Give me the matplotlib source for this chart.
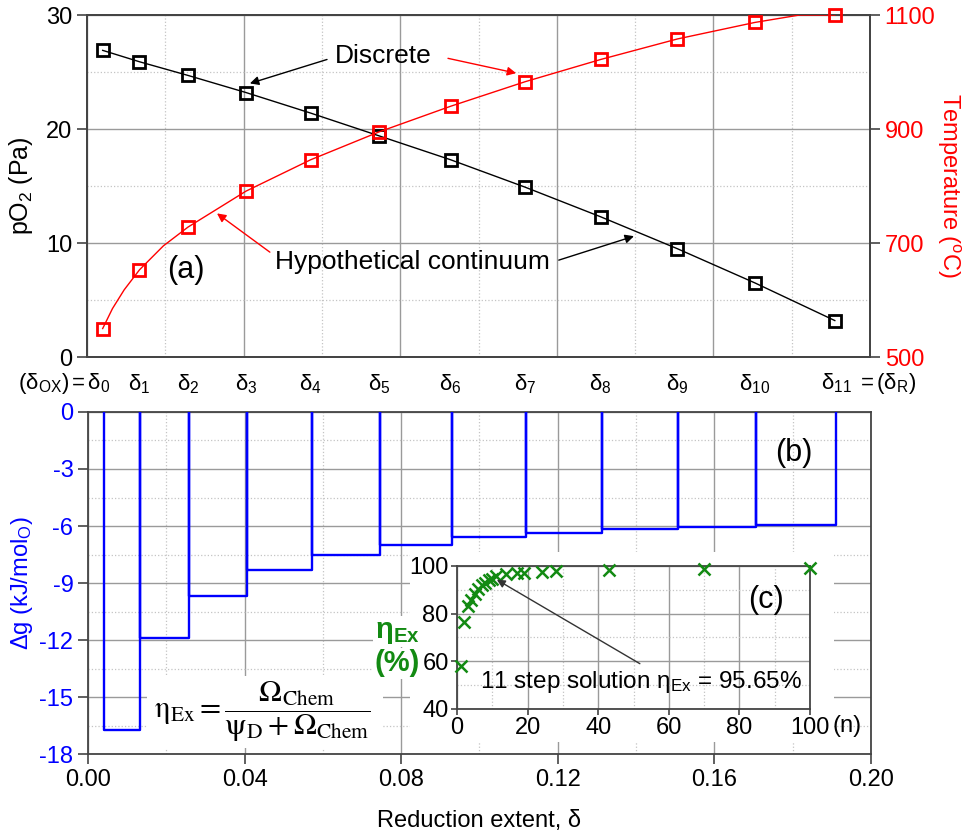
import matplotlib
matplotlib.use('Agg')
import matplotlib.pyplot as plt
import matplotlib.transforms as mtransforms
from matplotlib.ticker import MultipleLocator, FormatStrFormatter
from matplotlib.patches import Rectangle

plt.rcParams['font.family'] = ['Liberation Sans', 'DejaVu Sans']
plt.rcParams['mathtext.fontset'] = 'stix'
plt.rcParams['axes.unicode_minus'] = False
plt.rcParams['font.size'] = 17

# Reduction extents of the 11-step solution (delta_0 ... delta_11)
delta = [0.0040, 0.0134, 0.0258, 0.0406, 0.0571, 0.0746, 0.0929, 0.1119, 0.1312, 0.1508, 0.1706, 0.1910]
# panel (a): oxygen partial pressure and temperature at each delta
po2 = [26.9, 25.9, 24.7, 23.2, 21.4, 19.4, 17.3, 14.9, 12.3, 9.5, 6.5, 3.2]
temp = [550, 653, 728, 791, 846, 895, 940, 983, 1022, 1058, 1087, 1100]
# hypothetical continuum of temperature
cont_delta = [0.0040, 0.0065, 0.0095, 0.0134, 0.0195, 0.0258, 0.0406, 0.0571, 0.0746, 0.0929,
              0.1119, 0.1312, 0.1508, 0.1706, 0.1820, 0.1910]
cont_temp = [550, 585, 618, 653, 695, 728, 791, 846, 895, 940, 983, 1022, 1058, 1087, 1100, 1100]
# panel (b): Gibbs free energy change of each step
dg = [-16.76, -11.92, -9.67, -8.34, -7.51, -6.98, -6.58, -6.35, -6.18, -6.04, -5.95]
# panel (c): exergy efficiency vs number of steps
n_steps = [1, 2, 3, 4, 5, 6, 7, 8, 9, 10, 11, 14, 17, 19, 24, 28, 43, 70, 100]
eta_ex = [57.9, 76.3, 83.3, 85.8, 88.3, 90.2, 91.8, 93.0, 93.9, 94.6, 95.65, 96.5, 96.9, 97.2,
          97.6, 97.9, 98.3, 98.6, 99.0]

delta_labels = [r'$\mathregular{(δ_{OX})=δ_{0}}$'] + [r'$\mathregular{δ_{%d}}$' % i for i in range(1, 11)] \
               + [r'$\mathregular{δ_{11}\ =(δ_{R})}$']

RED = '#ff0000'
BLUE = '#0000ff'
GREEN = '#138a13'
SPINE = '#444444'

fig = plt.figure(figsize=(9.68, 8.34), dpi=100)


def style_axes(ax):
    for s in ax.spines.values():
        s.set_color(SPINE)
        s.set_linewidth(1.3)
    ax.grid(True, which='major', color='#9a9a9a', lw=1.0, ls='-')
    ax.grid(True, which='minor', color='#c4c4c4', lw=0.9, ls=':')
    ax.tick_params(which='major', direction='out', length=7, width=1.2, color=SPINE, labelsize=17)
    ax.tick_params(which='minor', length=0)
    ax.set_axisbelow(True)


# region Panel (a)
ax1 = fig.add_axes((0.0899, 0.5719, 0.8089, 0.4101))
style_axes(ax1)
ax1.set_xlim(0, 0.2)
ax1.set_ylim(0, 30)
ax1.xaxis.set_major_locator(MultipleLocator(0.04))
ax1.xaxis.set_minor_locator(MultipleLocator(0.02))
ax1.yaxis.set_major_locator(MultipleLocator(10))
ax1.yaxis.set_minor_locator(MultipleLocator(5))
ax1.tick_params(axis='x', which='major', length=0, labelbottom=False)
ax1.set_ylabel(r'pO$\mathregular{_2}$ (Pa)', fontsize=18)
ax1.yaxis.set_label_coords(-0.066, 0.5)

ax1.plot(delta, po2, color='black', lw=1.0, marker='s', ms=8, mfc='none', mec='black', mew=2.0, zorder=3)

ax2 = ax1.twinx()
ax2.set_ylim(500, 1100)
ax2.set_yticks([500, 700, 900, 1100])
for s in ax2.spines.values():
    s.set_color(SPINE)
    s.set_linewidth(1.3)
ax2.tick_params(axis='y', direction='out', length=7, width=1.2, color=SPINE, labelcolor=RED, labelsize=17)
ax2.plot(cont_delta, cont_temp, color=RED, lw=1.0, zorder=3)
ax2.plot(delta, temp, ls='none', marker='s', ms=8, mfc='none', mec=RED, mew=2.0, zorder=4, clip_on=False)
ax2.set_ylabel(r'Temperature ($\mathregular{^o}$C)', color=RED, rotation=270, fontsize=17)
ax2.yaxis.set_label_coords(1.118, 0.5)

ax1.text(0.0633, 26.4, 'Discrete', ha='left', va='center', fontsize=19)
ax1.text(0.048, 8.3, 'Hypothetical continuum', ha='left', va='center', fontsize=19)
ax1.text(0.0205, 7.6, '(a)', ha='left', va='center', fontsize=22)
arrow_k = dict(arrowstyle='-|>', color='black', lw=1.0, mutation_scale=13, shrinkA=0, shrinkB=0)
arrow_r = dict(arrowstyle='-|>', color=RED, lw=1.0, mutation_scale=13, shrinkA=0, shrinkB=0)
ax1.annotate('', xy=(0.0416, 24.0), xytext=(0.0613, 26.1), arrowprops=arrow_k)
ax1.annotate('', xy=(0.1096, 24.9), xytext=(0.0922, 26.2), arrowprops=arrow_r)
ax1.annotate('', xy=(0.0332, 12.6), xytext=(0.0467, 9.2), arrowprops=arrow_r)
ax1.annotate('', xy=(0.1397, 10.6), xytext=(0.1205, 8.5), arrowprops=arrow_k)

# delta labels between the two panels
trans = mtransforms.blended_transform_factory(ax1.transData, ax1.transAxes)
for i, (d, lab) in enumerate(zip(delta, delta_labels)):
    if i == 0:
        ax1.text(d + 0.0019, -0.078, lab, ha='right', va='center', transform=trans, fontsize=16)
    elif i == len(delta) - 1:
        ax1.text(d - 0.0035, -0.078, lab, ha='left', va='center', transform=trans, fontsize=16)
    else:
        ax1.text(d, -0.078, lab, ha='center', va='center', transform=trans, fontsize=16)
# endregion

# region Panel (b)
ax3 = fig.add_axes((0.0909, 0.0959, 0.8089, 0.4101))
style_axes(ax3)
ax3.set_xlim(0, 0.2)
ax3.set_ylim(-18, 0)
ax3.xaxis.set_major_locator(MultipleLocator(0.04))
ax3.xaxis.set_minor_locator(MultipleLocator(0.02))
ax3.xaxis.set_major_formatter(FormatStrFormatter('%.2f'))
ax3.yaxis.set_major_locator(MultipleLocator(3))
ax3.yaxis.set_minor_locator(MultipleLocator(1.5))
ax3.tick_params(axis='y', labelcolor=BLUE)
ax3.set_xlabel('Reduction extent, δ', fontsize=17, labelpad=14)
ax3.set_ylabel(r'Δg (kJ/mol$\mathregular{_O}$)', color=BLUE, fontsize=17)
ax3.yaxis.set_label_coords(-0.068, 0.5)

step_x = [delta[0], delta[0]]
step_y = [0, dg[0]]
for i in range(len(dg)):
    step_x += [delta[i + 1], delta[i + 1]]
    step_y += [dg[i], 0]
    if i + 1 < len(dg):
        step_x += [delta[i + 1]]
        step_y += [dg[i + 1]]
ax3.plot(step_x, step_y, color=BLUE, lw=1.7, zorder=3)

ax3.text(0.1755, -2.15, '(b)', ha='left', va='center', fontsize=22)

# white boxes behind formula and inset
ax3.add_patch(Rectangle((147 / 968, 1 - 748 / 834), (383 - 147) / 968, (748 - 676) / 834,
                        transform=fig.transFigure, facecolor='white', edgecolor='none', zorder=1))
ax3.add_patch(Rectangle((410 / 968, 1 - 742 / 834), (834 - 410) / 968, (742 - 552) / 834,
                        transform=fig.transFigure, facecolor='white', edgecolor='none', zorder=1))
ax3.text(0.0446, -15.75,
         r'$\mathrm{η_{Ex}} = \dfrac{\mathrm{Ω_{Chem}}}{\mathrm{ψ_{D}} + \mathrm{Ω_{Chem}}}$',
         ha='center', va='center', fontsize=22, zorder=4)
# endregion

# region Panel (c) inset
ax4 = fig.add_axes((0.4721, 0.1499, 0.3647, 0.1715))
style_axes(ax4)
ax4.set_xlim(0, 100)
ax4.set_ylim(40, 100)
ax4.xaxis.set_major_locator(MultipleLocator(20))
ax4.xaxis.set_minor_locator(MultipleLocator(10))
ax4.yaxis.set_major_locator(MultipleLocator(20))
ax4.yaxis.set_minor_locator(MultipleLocator(10))
ax4.tick_params(which='major', length=4, pad=2)
ax4.plot(n_steps, eta_ex, ls='none', marker='x', ms=8, mew=1.8, color=GREEN, clip_on=False, zorder=3)
ax4.text(1.065, -0.12, '(n)', transform=ax4.transAxes, ha='left', va='center', fontsize=17)
white = dict(facecolor='white', edgecolor='none', pad=1)
ax4.text(-0.17, 0.54, r'$\mathregular{η_{Ex}}$', transform=ax4.transAxes, ha='center', va='center',
         fontsize=21, color=GREEN, fontweight='bold', bbox=white)
ax4.text(-0.17, 0.32, '(%)', transform=ax4.transAxes, ha='center', va='center',
         fontsize=21, color=GREEN, fontweight='bold', bbox=white)
ax4.text(82.4, 85.8, '(c)', ha='left', va='center', fontsize=22)
ax4.text(6.5, 51.4, r'11 step solution $\mathregular{η_{Ex}}$ = 95.65%', ha='left', va='center', fontsize=17.5)
ax4.annotate('', xy=(11.3, 94.2), xytext=(51.8, 59.0),
             arrowprops=dict(arrowstyle='-|>', color='#333333', lw=1.0, mutation_scale=12, shrinkA=0, shrinkB=0))
# endregion

fig.savefig('out.png', dpi=100)
